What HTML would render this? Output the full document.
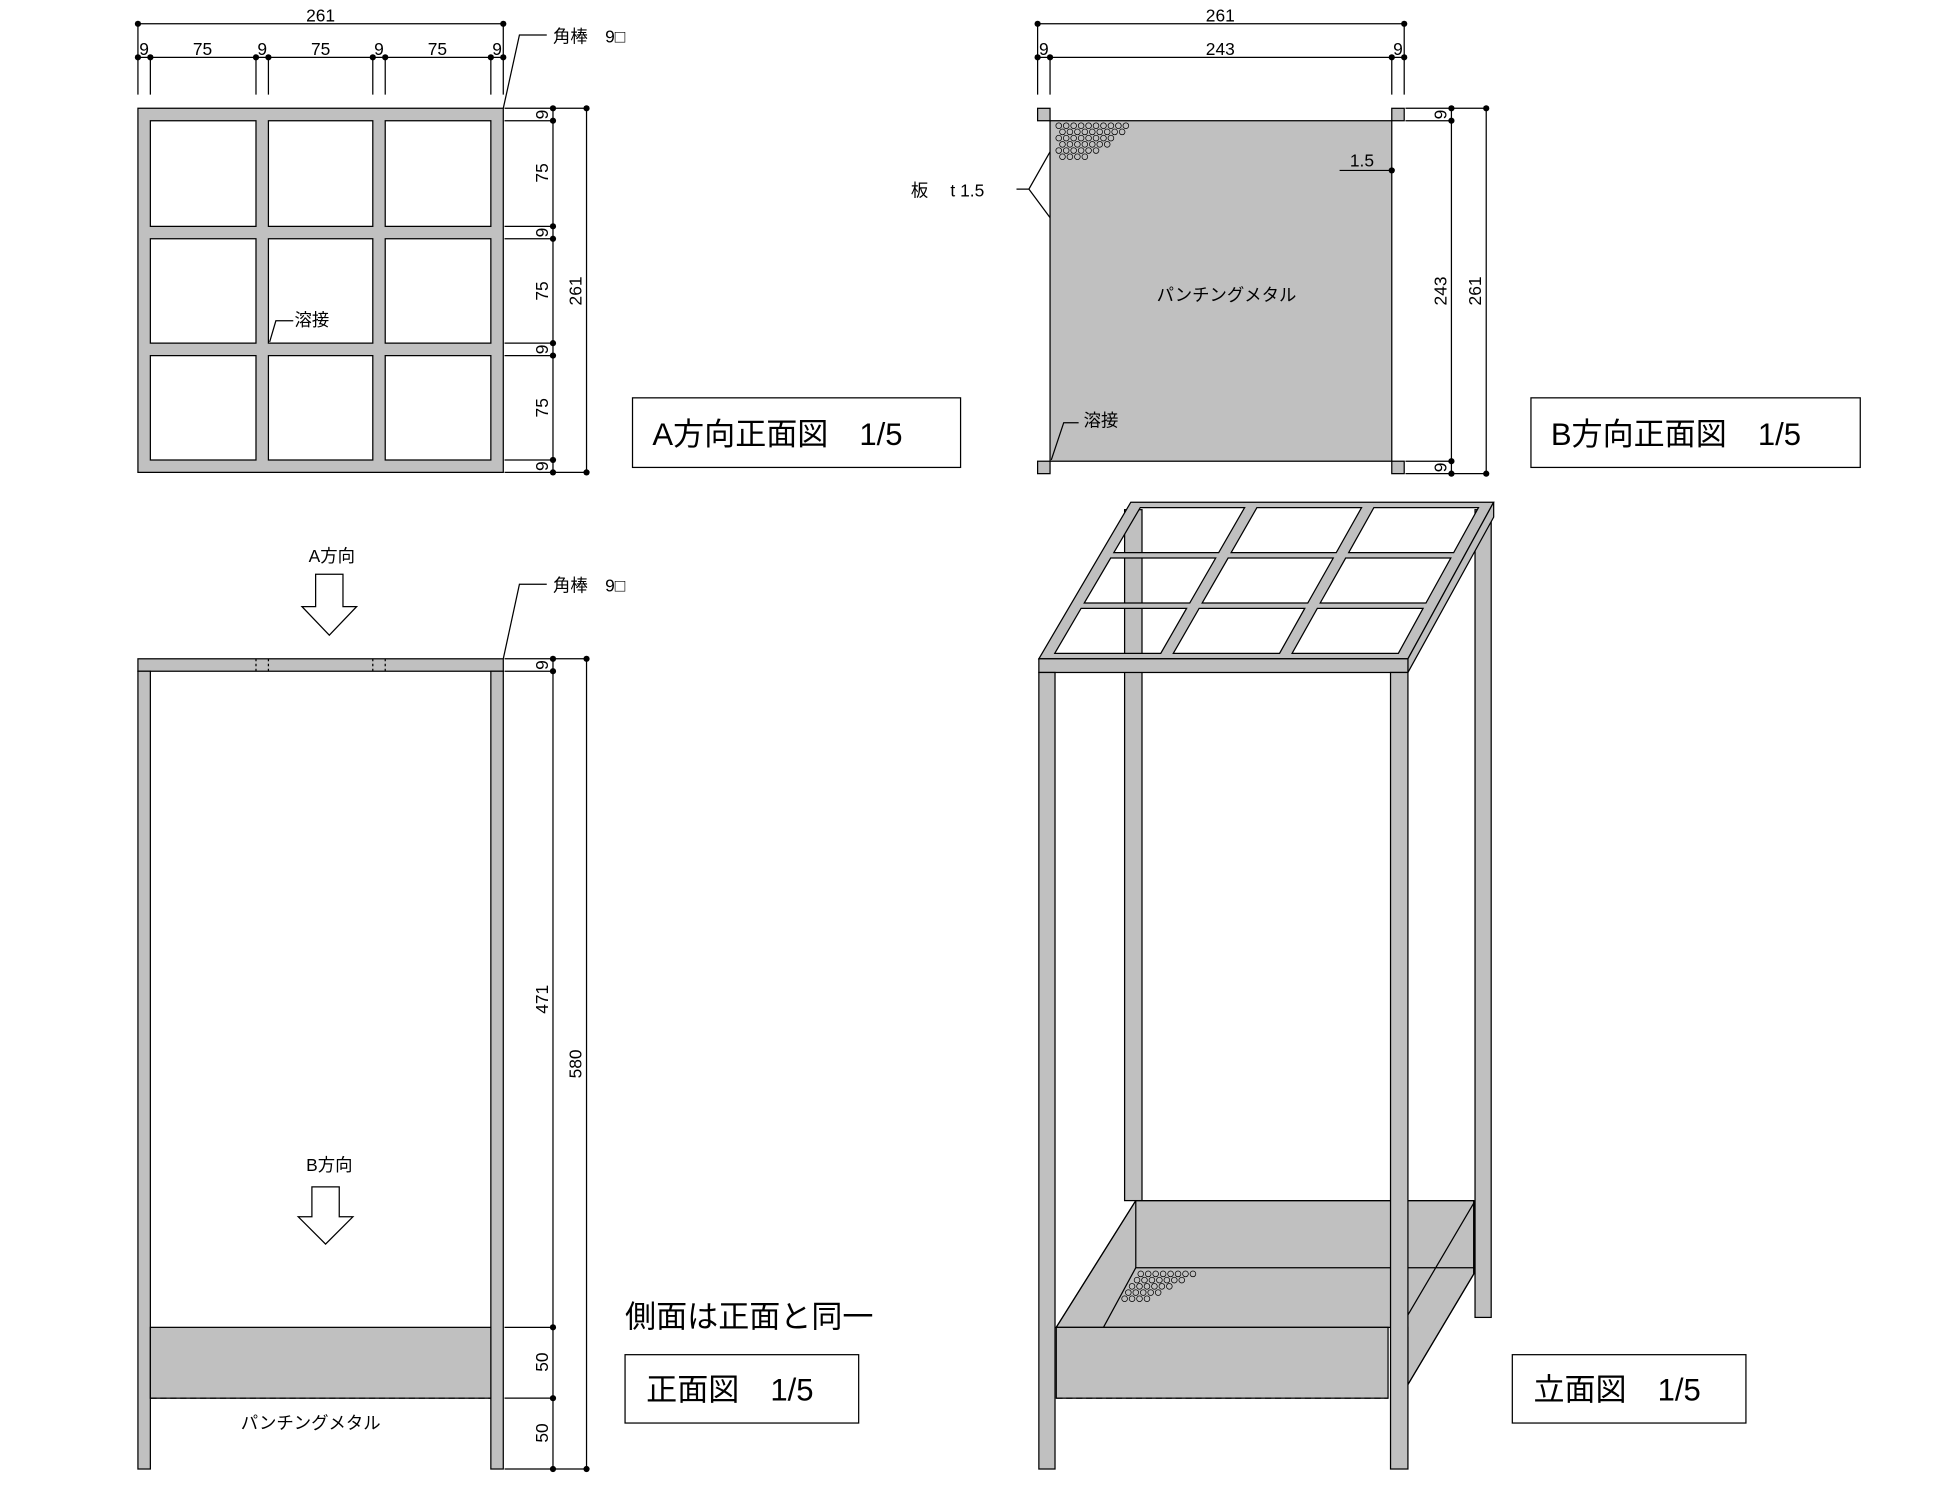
<!DOCTYPE html>
<html><head><meta charset="utf-8"><style>
html,body{margin:0;padding:0;background:#fff}
svg{display:block}
text{font-family:"Liberation Sans","Noto Sans CJK JP",sans-serif;fill:#000}
</style></head><body>
<svg width="1946" height="1504" viewBox="0 0 1566 1210" xmlns="http://www.w3.org/2000/svg">
<rect width="1566" height="1210" fill="#fff"/>
<g stroke="#000" stroke-width="1" fill="none">
<!-- ===== A view ===== -->
<path fill="#c0c0c0" fill-rule="evenodd" d="M111 87H405V380H111Z
M121 97H206V182H121Z M216 97H300V182H216Z M310 97H395V182H310Z
M121 192H206V276H121Z M216 192H300V276H216Z M310 192H395V276H310Z
M121 286H206V370H121Z M216 286H300V370H216Z M310 286H395V370H310Z"/>
<line x1="111" y1="19" x2="405" y2="19"/>
<line x1="111" y1="46" x2="405" y2="46"/>
<path d="M111 46V76M121 46V76M206 46V76M216 46V76M300 46V76M310 46V76M395 46V76M405 19V76"/>
<path d="M111 19V46"/>
<path d="M405 87L418 28H440"/>
<path d="M406 87H472M406 97H445M406 182H445M406 192H445M406 276H445M406 286H445M406 370H445M406 380H472"/>
<line x1="445" y1="87" x2="445" y2="380"/><line x1="472" y1="87" x2="472" y2="380"/>
<path d="M217 275L222 258H236"/>
<!-- ===== B view ===== -->
<rect x="845" y="97" width="275" height="274" fill="#c0c0c0"/>
<rect x="835" y="87" width="10" height="10" fill="#c0c0c0"/>
<rect x="1120" y="87" width="10" height="10" fill="#c0c0c0"/>
<rect x="835" y="371" width="10" height="10" fill="#c0c0c0"/>
<rect x="1120" y="371" width="10" height="10" fill="#c0c0c0"/>
<line x1="835" y1="19" x2="1130" y2="19"/>
<line x1="835" y1="46" x2="1130" y2="46"/>
<path d="M835 19V76M845 46V76M1120 46V76M1130 19V76"/>
<path d="M1131 87H1196M1131 97H1168M1131 371H1168M1131 381H1196"/>
<line x1="1168" y1="87" x2="1168" y2="381"/><line x1="1196" y1="87" x2="1196" y2="381"/>
<path d="M1078 137H1120"/>
<path d="M818 152H828L845 122M828 152L845 175"/>
<path d="M846 370L856 340H868"/>
<!-- ===== Front view ===== -->
<rect x="111" y="530" width="294" height="10" fill="#c0c0c0"/>
<rect x="111" y="540" width="10" height="642" fill="#c0c0c0"/>
<rect x="395" y="540" width="10" height="642" fill="#c0c0c0"/>
<rect x="121" y="1068" width="274" height="57" fill="#c0c0c0"/>
<line x1="121" y1="1125" x2="395" y2="1125" stroke-dasharray="5,3"/>
<path d="M206 530V540M216 530V540M300 530V540M310 530V540" stroke-dasharray="2,2"/>
<path d="M405 530L418 470H440"/>
<path d="M406 530H472M406 540H445M406 1068H445M406 1125H445M406 1182H472"/>
<line x1="445" y1="530" x2="445" y2="1182"/><line x1="472" y1="530" x2="472" y2="1182"/>
<path fill="#fff" d="M254 462H276V488H287L265 511L243 488H254Z"/>
<path fill="#fff" d="M251 955H273V979H284L262 1001L240 979H251Z"/>
<!-- ===== Iso view ===== -->
<rect x="905" y="410" width="14" height="556" fill="#c0c0c0"/>
<rect x="1187" y="410" width="13" height="650" fill="#c0c0c0"/>
<!-- tray -->
<polygon points="850,1068 914,966 1186,966 1186,1025 1133,1114 1133,1068" fill="#c0c0c0"/>
<path d="M850 1068L914 966H1186M914 966V1020H1186M888 1068L914 1020M1133 1058L1186 968M1186 966V1025L1133 1114"/>
<rect x="850" y="1068" width="267" height="57" fill="#c0c0c0"/>
<line x1="850" y1="1125" x2="1117" y2="1125" stroke-dasharray="5,3"/>
<!-- top frame -->
<path fill="#c0c0c0" fill-rule="evenodd" d="M836 530L910 404H1202L1133 530Z
M848.8 525.6L870 489.4H954.9L934.1 525.6Z M944.2 525.6L965 489.4H1050L1029.7 525.6Z M1039.8 525.6L1060.1 489.4H1145.2L1125.3 525.6Z
M872.5 485.1L893.8 448.9H978.3L957.4 485.1Z M967.4 485.1L988.3 448.9H1072.9L1052.4 485.1Z M1062.4 485.1L1082.9 448.9H1167.5L1147.5 485.1Z
M896.3 444.6L917.6 408.3H1001.6L980.7 444.6Z M990.7 444.6L1011.5 408.3H1095.7L1075.3 444.6Z M1085.3 444.6L1105.6 408.3H1189.8L1169.8 444.6Z"/>
<polygon points="1133,530 1202,404 1202,416 1133,541" fill="#c0c0c0"/>
<rect x="836" y="530" width="297" height="11" fill="#c0c0c0"/>
<rect x="836" y="541" width="13" height="641" fill="#c0c0c0"/>
<rect x="1119" y="541" width="14" height="641" fill="#c0c0c0"/>
<!-- label boxes -->
<rect x="509" y="320" width="264" height="56"/>
<rect x="1232" y="320" width="265" height="56"/>
<rect x="503" y="1090" width="188" height="55"/>
<rect x="1217" y="1090" width="188" height="55"/>
</g>
<g fill="#000">
<circle cx="111" cy="19" r="2.5"/><circle cx="405" cy="19" r="2.5"/>
<circle cx="111" cy="46" r="2.5"/><circle cx="121" cy="46" r="2.5"/><circle cx="206" cy="46" r="2.5"/><circle cx="216" cy="46" r="2.5"/><circle cx="300" cy="46" r="2.5"/><circle cx="310" cy="46" r="2.5"/><circle cx="395" cy="46" r="2.5"/><circle cx="405" cy="46" r="2.5"/>
<circle cx="445" cy="87" r="2.5"/><circle cx="445" cy="97" r="2.5"/><circle cx="445" cy="182" r="2.5"/><circle cx="445" cy="192" r="2.5"/><circle cx="445" cy="276" r="2.5"/><circle cx="445" cy="286" r="2.5"/><circle cx="445" cy="370" r="2.5"/><circle cx="445" cy="380" r="2.5"/>
<circle cx="472" cy="87" r="2.5"/><circle cx="472" cy="380" r="2.5"/>
<circle cx="835" cy="19" r="2.5"/><circle cx="1130" cy="19" r="2.5"/>
<circle cx="835" cy="46" r="2.5"/><circle cx="845" cy="46" r="2.5"/><circle cx="1120" cy="46" r="2.5"/><circle cx="1130" cy="46" r="2.5"/>
<circle cx="1168" cy="87" r="2.5"/><circle cx="1168" cy="97" r="2.5"/><circle cx="1168" cy="371" r="2.5"/><circle cx="1168" cy="381" r="2.5"/>
<circle cx="1196" cy="87" r="2.5"/><circle cx="1196" cy="381" r="2.5"/>
<circle cx="1120" cy="137" r="2.5"/>
<circle cx="445" cy="530" r="2.5"/><circle cx="445" cy="540" r="2.5"/><circle cx="445" cy="1068" r="2.5"/><circle cx="445" cy="1125" r="2.5"/><circle cx="445" cy="1182" r="2.5"/>
<circle cx="472" cy="530" r="2.5"/><circle cx="472" cy="1182" r="2.5"/>
</g>
<g fill="none" stroke="#000" stroke-width="0.6">
<circle cx="852" cy="101" r="2.3"/><circle cx="858" cy="101" r="2.3"/><circle cx="864" cy="101" r="2.3"/><circle cx="870" cy="101" r="2.3"/><circle cx="876" cy="101" r="2.3"/><circle cx="882" cy="101" r="2.3"/><circle cx="888" cy="101" r="2.3"/><circle cx="894" cy="101" r="2.3"/><circle cx="900" cy="101" r="2.3"/><circle cx="906" cy="101" r="2.3"/>
<circle cx="855" cy="106" r="2.3"/><circle cx="861" cy="106" r="2.3"/><circle cx="867" cy="106" r="2.3"/><circle cx="873" cy="106" r="2.3"/><circle cx="879" cy="106" r="2.3"/><circle cx="885" cy="106" r="2.3"/><circle cx="891" cy="106" r="2.3"/><circle cx="897" cy="106" r="2.3"/><circle cx="903" cy="106" r="2.3"/>
<circle cx="852" cy="111" r="2.3"/><circle cx="858" cy="111" r="2.3"/><circle cx="864" cy="111" r="2.3"/><circle cx="870" cy="111" r="2.3"/><circle cx="876" cy="111" r="2.3"/><circle cx="882" cy="111" r="2.3"/><circle cx="888" cy="111" r="2.3"/><circle cx="894" cy="111" r="2.3"/>
<circle cx="855" cy="116" r="2.3"/><circle cx="861" cy="116" r="2.3"/><circle cx="867" cy="116" r="2.3"/><circle cx="873" cy="116" r="2.3"/><circle cx="879" cy="116" r="2.3"/><circle cx="885" cy="116" r="2.3"/><circle cx="891" cy="116" r="2.3"/>
<circle cx="852" cy="121" r="2.3"/><circle cx="858" cy="121" r="2.3"/><circle cx="864" cy="121" r="2.3"/><circle cx="870" cy="121" r="2.3"/><circle cx="876" cy="121" r="2.3"/><circle cx="882" cy="121" r="2.3"/>
<circle cx="855" cy="126" r="2.3"/><circle cx="861" cy="126" r="2.3"/><circle cx="867" cy="126" r="2.3"/><circle cx="873" cy="126" r="2.3"/>
<circle cx="918" cy="1025" r="2.3"/><circle cx="924" cy="1025" r="2.3"/><circle cx="930" cy="1025" r="2.3"/><circle cx="936" cy="1025" r="2.3"/><circle cx="942" cy="1025" r="2.3"/><circle cx="948" cy="1025" r="2.3"/><circle cx="954" cy="1025" r="2.3"/><circle cx="960" cy="1025" r="2.3"/>
<circle cx="915" cy="1030" r="2.3"/><circle cx="921" cy="1030" r="2.3"/><circle cx="927" cy="1030" r="2.3"/><circle cx="933" cy="1030" r="2.3"/><circle cx="939" cy="1030" r="2.3"/><circle cx="945" cy="1030" r="2.3"/><circle cx="951" cy="1030" r="2.3"/>
<circle cx="911" cy="1035" r="2.3"/><circle cx="917" cy="1035" r="2.3"/><circle cx="923" cy="1035" r="2.3"/><circle cx="929" cy="1035" r="2.3"/><circle cx="935" cy="1035" r="2.3"/><circle cx="941" cy="1035" r="2.3"/>
<circle cx="908" cy="1040" r="2.3"/><circle cx="914" cy="1040" r="2.3"/><circle cx="920" cy="1040" r="2.3"/><circle cx="926" cy="1040" r="2.3"/><circle cx="932" cy="1040" r="2.3"/>
<circle cx="905" cy="1045" r="2.3"/><circle cx="911" cy="1045" r="2.3"/><circle cx="917" cy="1045" r="2.3"/><circle cx="923" cy="1045" r="2.3"/>
</g>
<g font-size="14" text-anchor="middle">
<text x="258" y="17">261</text>
<text x="116" y="44">9</text><text x="163" y="44">75</text><text x="211" y="44">9</text><text x="258" y="44">75</text><text x="305" y="44">9</text><text x="352" y="44">75</text><text x="400" y="44">9</text>
<text x="982" y="17">261</text>
<text x="840" y="44">9</text><text x="982" y="44">243</text><text x="1125" y="44">9</text>
<g transform="translate(441,92) rotate(-90)"><text>9</text></g>
<g transform="translate(441,139) rotate(-90)"><text>75</text></g>
<g transform="translate(441,187) rotate(-90)"><text>9</text></g>
<g transform="translate(441,234) rotate(-90)"><text>75</text></g>
<g transform="translate(441,281) rotate(-90)"><text>9</text></g>
<g transform="translate(441,328) rotate(-90)"><text>75</text></g>
<g transform="translate(441,375) rotate(-90)"><text>9</text></g>
<g transform="translate(468,234) rotate(-90)"><text>261</text></g>
<g transform="translate(1164,92) rotate(-90)"><text>9</text></g>
<g transform="translate(1164,234) rotate(-90)"><text>243</text></g>
<g transform="translate(1164,376) rotate(-90)"><text>9</text></g>
<g transform="translate(1192,234) rotate(-90)"><text>261</text></g>
<g transform="translate(441,535) rotate(-90)"><text>9</text></g>
<g transform="translate(441,804) rotate(-90)"><text>471</text></g>
<g transform="translate(441,1096) rotate(-90)"><text>50</text></g>
<g transform="translate(441,1153) rotate(-90)"><text>50</text></g>
<g transform="translate(468,856) rotate(-90)"><text>580</text></g>
<text x="1096" y="134">1.5</text>
<text x="267" y="452">A方向</text>
<text x="265" y="942">B方向</text>
<text x="250" y="1150">パンチングメタル</text>
<text x="987" y="242">パンチングメタル</text>
</g>
<g font-size="14">
<text x="445" y="34">角棒　9□</text>
<text x="445" y="476">角棒　9□</text>
<text x="237" y="262">溶接</text>
<text x="872" y="343">溶接</text>
<text x="733" y="158">板　 t 1.5</text>
</g>
<g font-size="25">
<text x="525" y="358">A方向正面図　1/5</text>
<text x="1248" y="358">B方向正面図　1/5</text>
<text x="520" y="1127">正面図　1/5</text>
<text x="1234" y="1127">立面図　1/5</text>
<text x="503" y="1068">側面は正面と同一</text>
</g>
</svg>
</body></html>
